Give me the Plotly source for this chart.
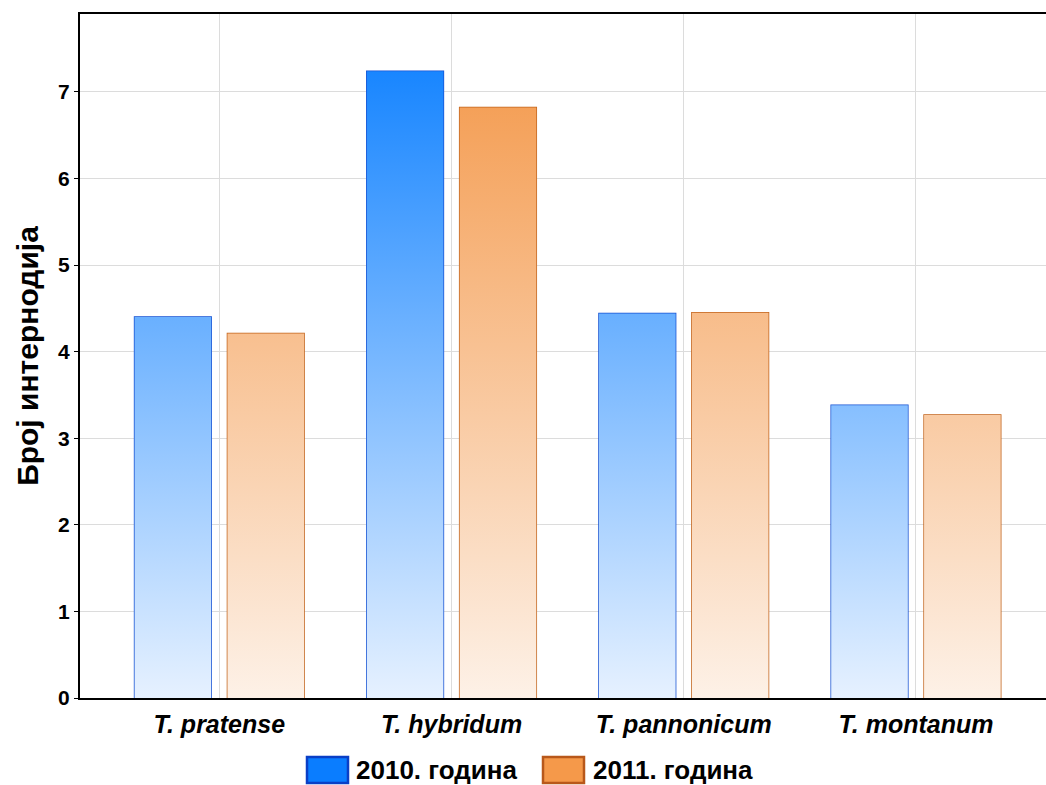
import plotly.graph_objects as go

categories = ["T. pratense", "T. hybridum", "T. pannonicum", "T. montanum"]
series_names = ["2010. година", "2011. година"]
values_2010 = [4.40, 7.24, 4.44, 3.38]
values_2011 = [4.21, 6.82, 4.45, 3.27]
y_ticks = [0, 1, 2, 3, 4, 5, 6, 7]
y_title = "Број интернодија"

FONT = "Liberation Sans, Arial, sans-serif"
positions = list(range(len(categories)))
bar_w = 0.33
offsets = [-0.2, 0.2]
grad_top = 7.3

styles = [
    dict(vals=values_2010, name=series_names[0], line="#1450d2",
         scale=[[0, "#e6f1ff"], [1, "#1785ff"]], legend_fill="#0a7dff", legend_line="#0a3fc6"),
    dict(vals=values_2011, name=series_names[1], line="#c2631b",
         scale=[[0, "#fdf1e7"], [1, "#f49b4f"]], legend_fill="#f5994a", legend_line="#b8581a"),
]

fig = go.Figure()

# gradient fills (computed from the data through the axis scales)
for st, off in zip(styles, offsets):
    for p, v in zip(positions, st["vals"]):
        x0, x1 = p + off - bar_w / 2, p + off + bar_w / 2
        fig.add_trace(go.Scatter(
            x=[x0, x0, x1, x1, x0], y=[0, v, v, 0, 0],
            mode="lines", fill="toself", line=dict(width=0),
            fillgradient=dict(type="vertical", colorscale=st["scale"], start=0, stop=grad_top),
            hoverinfo="skip", showlegend=False))

# bar outlines
for st, off in zip(styles, offsets):
    fig.add_trace(go.Bar(
        x=positions, y=st["vals"], name=st["name"],
        width=bar_w, offset=off - bar_w / 2,
        marker=dict(color="rgba(0,0,0,0)", line=dict(color=st["line"], width=1.5)),
        showlegend=False))

fig.update_layout(
    width=1046, height=785,
    margin=dict(l=80, r=0, t=14, b=87),
    paper_bgcolor="white", plot_bgcolor="white",
    barmode="overlay",
    font=dict(family=FONT, color="black"),
    showlegend=False,
)
fig.update_xaxes(
    range=[-0.6, 3.56], tickmode="array", tickvals=positions, ticktext=categories,
    tickfont=dict(size=25, weight="bold", style="italic", family=FONT),
    showgrid=True, gridcolor="#dcdcdc", gridwidth=1,
    showline=True, linecolor="black", linewidth=2, mirror=True,
    ticks="", zeroline=False, ticklabelstandoff=3,
)
fig.update_yaxes(
    range=[0, 7.9], tickmode="array", tickvals=y_ticks,
    tickfont=dict(size=21, weight="bold", family=FONT),
    showgrid=True, gridcolor="#dcdcdc", gridwidth=1,
    showline=True, linecolor="black", linewidth=2,
    ticks="outside", ticklen=4, tickcolor="black", zeroline=False,
    title=dict(text=y_title, font=dict(size=30, weight="bold", family=FONT), standoff=11),
)

# custom legend (large swatches)
px_w, px_h = 966, 684
def px(xp):
    return (xp - 80) / px_w
def py(yp):
    return (698 - yp) / px_h

legend_items = [(307, 348, 354), (543, 584, 591)]
for st, (sx0, sx1, tx) in zip(styles, legend_items):
    fig.add_shape(type="rect", xref="paper", yref="paper",
                  x0=px(sx0), x1=px(sx1), y0=py(783), y1=py(757),
                  fillcolor=st["legend_fill"], line=dict(color=st["legend_line"], width=2.5))
    fig.add_annotation(xref="paper", yref="paper", x=px(tx), y=py(770),
                       text=st["name"], showarrow=False, xanchor="left", yanchor="middle",
                       font=dict(size=26, weight="bold", family=FONT))

fig.write_html("out.html", config={"displayModeBar": False},
               post_script="document.body.style.margin='0';document.body.style.padding='0';")
